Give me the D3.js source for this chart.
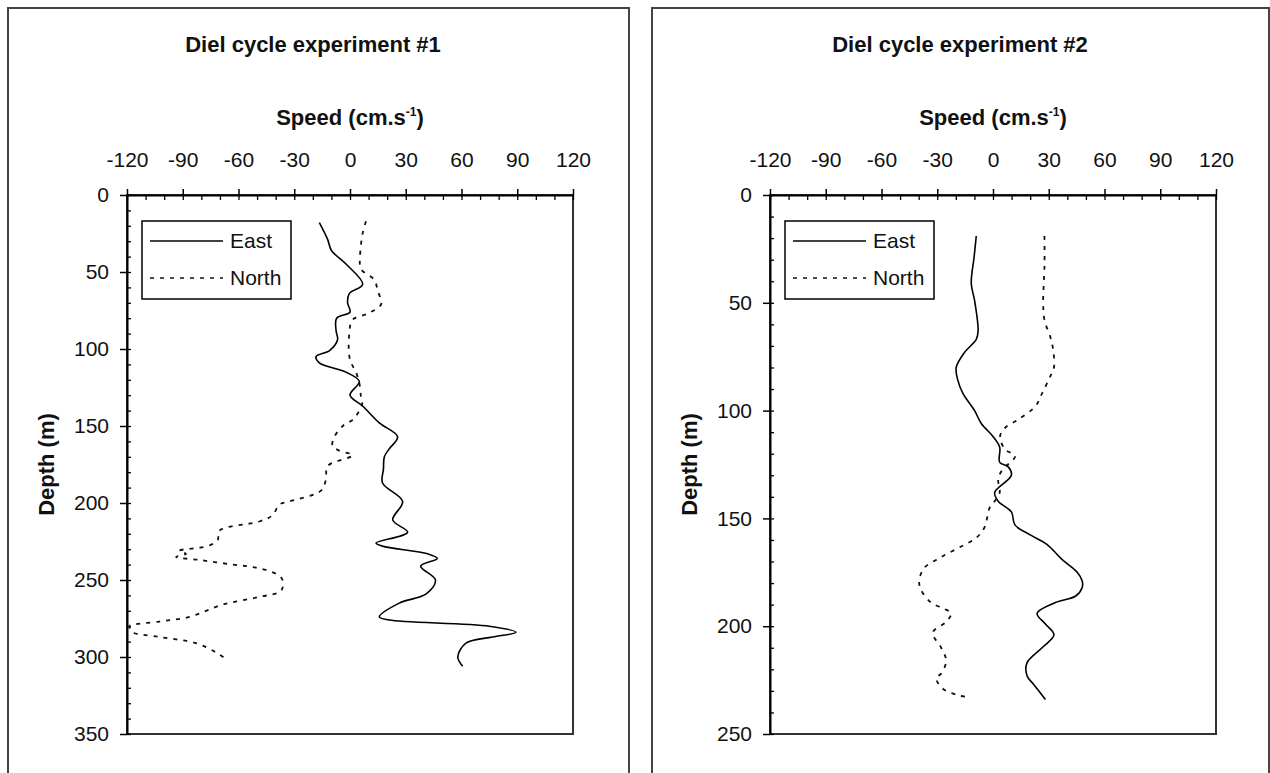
<!DOCTYPE html>
<meta charset="utf-8">
<style>
body { margin: 0; background: #fff; }
svg { font-family: "Liberation Sans", Arial, sans-serif; }
.frame { fill: none; stroke: #444; stroke-width: 2px; }
.plotbox { fill: #fff; stroke: #333; stroke-width: 2px; }
.axis path.domain { stroke: #000; stroke-width: 2px; }
.axis line { stroke: #000; stroke-width: 1.5px; }
.axis text { font-size: 21px; fill: #111; }
.minor path.domain { display: none; }
.minor line { stroke: #000; stroke-width: 1.3px; }
.title { font-size: 22px; font-weight: bold; fill: #111; }
.east { fill: none; stroke: #000; stroke-width: 1.6px; }
.north { fill: none; stroke: #111; stroke-width: 1.8px; stroke-dasharray: 4,6; }
.legend rect { fill: #fff; stroke: #000; stroke-width: 1.5px; }
.legend text { font-size: 21px; fill: #111; }
</style>
<svg width="1270" height="773"></svg>
<script src="https://cdnjs.cloudflare.com/ajax/libs/d3/7.8.5/d3.min.js"></script>
<script>
// speed ticks (cm/s)
var speedTicks = [-120, -90, -60, -30, 0, 30, 60, 90, 120];

// experiment #1
var depth1 = [0, 50, 100, 150, 200, 250, 300, 350];
var east1Depth = [18, 29, 36, 45, 58, 64, 70, 76, 80, 88, 94, 101, 105, 109, 115, 121, 130, 137, 148, 157, 165, 170, 178, 187, 199, 211, 219, 226, 228, 233, 236, 241, 250, 259, 265, 274, 276, 280, 284, 287, 291, 300, 306];
var east1 = [-16.5, -12, -10, -2, 6.8, -0.4, -1.3, 0, -7.2, -7.5, -6.7, -11, -18.3, -16.5, -2.2, 5, 0, 6.8, 15.8, 25.6, 21, 18.5, 18, 17.5, 28.3, 23, 31, 14, 17.5, 41.8, 47, 38, 46, 41, 26.5, 15.8, 21, 75, 89.3, 76.7, 62.4, 58, 60.6];
var north1Depth = [17, 25, 40, 48, 55, 62, 71, 77, 81, 90, 107, 115, 122, 131, 136, 146, 149, 157, 163, 166, 169, 176, 185, 192, 199, 201, 208, 212, 218, 224, 228, 231, 233, 235, 237, 240, 242, 246, 250, 257, 261, 266, 274, 277, 280, 282, 284, 287, 291, 297, 302];
var north1 = [8.6, 6.8, 5.4, 5.9, 13, 14.9, 16.7, 9.5, 1.4, -0.4, 0, 3.2, 5, 5.9, 6.5, 1.4, -3, -8.4, -9.4, -5.8, 1.4, -12, -13, -15.6, -32.7, -38, -41.7, -48.8, -70.3, -71.2, -76.6, -91.9, -88.3, -93.6, -81, -63, -50.6, -39.8, -36.3, -37.1, -48.8, -68.6, -86.5, -102.6, -118.8, -118, -117, -102.6, -82.9, -72.1, -65.9];

// experiment #2
var depth2 = [0, 50, 100, 150, 200, 250];
var east2Depth = [19, 29, 41, 49, 63, 67, 73, 80, 86, 92, 100, 106, 112, 117, 124, 126, 130, 138, 142, 147, 153, 158, 162, 169, 175, 179, 182, 186, 189, 194, 199, 204, 210, 217, 223, 227, 234];
var east2 = [-9, -10.2, -11.7, -9.9, -8, -9, -15.3, -19.8, -18.9, -16.2, -9.9, -6.3, 0, 3.6, 3.6, 8.1, 9.9, 0.9, 2.8, 9.9, 11.8, 20.8, 29, 37.1, 45.3, 48, 48, 44.5, 33.6, 23.7, 28.2, 32.8, 26.4, 18.3, 18.3, 21.9, 28.2];
var north2Depth = [19, 33, 50, 58, 66, 72, 80, 84, 92, 98, 104, 108, 112, 118, 121, 128, 132, 138, 142, 145, 154, 159, 163, 168, 173, 179, 183, 189, 192, 194, 198, 203, 210, 216, 222, 224, 229, 232, 233];
var north2 = [27.7, 27.7, 27, 27.7, 30.9, 32.4, 32.8, 30.9, 26.4, 22.8, 13.8, 6.5, 3.8, 6.5, 11.9, 4.6, 2.8, 3.6, 0.9, -1.8, -4.5, -9, -17.1, -28, -37, -39.7, -38.8, -33.4, -26.1, -22.5, -25.2, -32.4, -27.9, -25.2, -27.9, -30.6, -27, -18.9, -12.5];

var svg = d3.select("svg");

function zipPts(ds, vs) {
  return ds.map(function(d, i) { return {depth: d, v: vs[i]}; });
}

function panel(o) {
  var g = svg.append("g").attr("transform", "translate(" + o.left + ",0)");
  var w = 446, top = 195, bottom = 734, px = 119;

  g.append("rect").attr("class", "frame")
    .attr("x", o.frameX).attr("y", 8).attr("width", o.frameW).attr("height", 820);

  g.append("text").attr("class", "title")
    .attr("x", o.titleX).attr("y", 52).attr("text-anchor", "middle")
    .text(o.title);

  var x = d3.scaleLinear().domain([-120, 120]).range([px, px + w]);
  var y = d3.scaleLinear().domain([0, o.maxDepth]).range([top, bottom]);

  g.append("rect").attr("class", "plotbox")
    .attr("x", px).attr("y", top).attr("width", w).attr("height", bottom - top);

  // minor ticks, inside
  g.append("g").attr("class", "minor").attr("transform", "translate(0," + top + ")")
    .call(d3.axisTop(x).tickValues(d3.range(-120, 121, 10)).tickSize(-5).tickFormat(""));
  g.append("g").attr("class", "minor").attr("transform", "translate(" + px + ",0)")
    .call(d3.axisLeft(y).tickValues(d3.range(0, o.maxDepth + 1, 10)).tickSize(-4).tickFormat(""));

  g.append("g").attr("class", "axis").attr("transform", "translate(0," + top + ")")
    .call(d3.axisTop(x).tickValues(speedTicks).tickFormat(String)
      .tickSize(6).tickSizeOuter(0).tickPadding(22));
  g.append("g").attr("class", "axis").attr("transform", "translate(" + px + ",0)")
    .call(d3.axisLeft(y).tickValues(o.depthTicks).tickFormat(String)
      .tickSize(7).tickSizeOuter(0).tickPadding(11));

  var sp = g.append("text").attr("class", "title")
    .attr("x", px + w / 2).attr("y", 125).attr("text-anchor", "middle");
  sp.append("tspan").text("Speed (cm.s");
  sp.append("tspan").attr("font-size", 12).attr("dy", -9).text("-1");
  sp.append("tspan").attr("dy", 9).text(")");

  g.append("text").attr("class", "title")
    .attr("transform", "translate(" + (px - 73) + "," + ((top + bottom) / 2) + ") rotate(-90)")
    .attr("text-anchor", "middle").text("Depth (m)");

  var line = d3.line()
    .x(function(d) { return x(d.v); })
    .y(function(d) { return y(d.depth); })
    .curve(d3.curveCatmullRom.alpha(0.5));

  g.append("path").attr("class", "north").attr("d", line(zipPts(o.northDepth, o.north)));
  g.append("path").attr("class", "east").attr("d", line(zipPts(o.eastDepth, o.east)));

  // legend
  var lg = g.append("g").attr("class", "legend").attr("transform", "translate(" + (px + 15) + "," + (top + 26) + ")");
  lg.append("rect").attr("width", 149).attr("height", 78);
  lg.append("line").attr("class", "east").attr("x1", 8).attr("x2", 81).attr("y1", 20).attr("y2", 20);
  lg.append("line").attr("class", "north").attr("x1", 8).attr("x2", 81).attr("y1", 57).attr("y2", 57)
    .style("stroke-width", "1.6px");
  lg.append("text").attr("x", 88).attr("y", 20).attr("dy", "0.35em").text("East");
  lg.append("text").attr("x", 88).attr("y", 57).attr("dy", "0.35em").text("North");
}

panel({left: 8, frameX: 0, frameW: 621, titleX: 305, title: "Diel cycle experiment #1",
  maxDepth: 350, depthTicks: depth1,
  eastDepth: east1Depth, east: east1, northDepth: north1Depth, north: north1});

panel({left: 651, frameX: 1, frameW: 617, titleX: 309, title: "Diel cycle experiment #2",
  maxDepth: 250, depthTicks: depth2,
  eastDepth: east2Depth, east: east2, northDepth: north2Depth, north: north2});
</script>
